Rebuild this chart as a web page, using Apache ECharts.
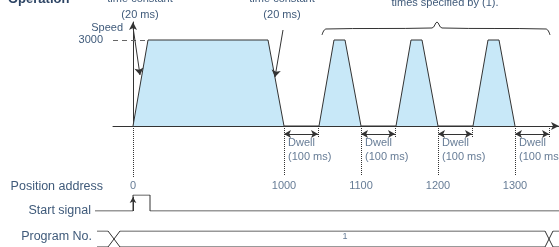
<!DOCTYPE html>
<html>
<head>
<meta charset="utf-8">
<title>Operation</title>
<script src="https://cdn.jsdelivr.net/npm/echarts@6/dist/echarts.min.js"></script>
<style>
html, body { margin: 0; padding: 0; background: #fff; }
#chart { width: 559px; height: 247px; }
</style>
</head>
<body>
<div id="chart"></div>
<script>
// speed profile, time in drawing units (0 = start of first move)
var profileT = [0, 15, 135, 151, 186, 201, 212, 228, 263, 278, 289, 305, 340, 355, 366, 382];
var profileV = [0, 3000, 3000, 0, 0, 3000, 3000, 0, 0, 3000, 3000, 0, 0, 3000, 3000, 0];
var speedTicks = [3000];
// curly brace over the repeated moves
var braceT = [189, 193, 299, 304, 309, 413, 417];
var braceV = [3174, 3384, 3419, 3628, 3419, 3384, 3174];
// dwell between moves
var dwellStart = [151, 228, 305, 382];
var dwellEnd = [185, 262, 339, 416];
// position address at the end of each move
var addrT = [0, 151, 228, 305, 382];
var addrLabels = ['0', '1000', '1100', '1200', '1300'];
// start signal
var startT = [-38, 0, 0, 17, 17, 426];
var startLevel = [0, 0, 1, 1, 0, 0];
// program no. bus
var progT = [-36, -25, -13, 412, 420, 426];
var progUpper = [1, 1, 0, 0, 1, 1];
var progLower = [0, 0, 1, 1, 0, 0];
var progLabel = '1';

var ink = '#333333';
var txt = '#3f5a7a';
var fill = '#c8e8f8';
var font = "'Liberation Sans', Arial, sans-serif";

function zip(a, b) {
  return a.map(function (v, i) { return [v, b[i]]; });
}

function hiddenX(grid, min) {
  return { gridIndex: grid, type: 'value', min: min, max: 426, show: false };
}

var myChart = echarts.init(document.getElementById('chart'));

// dotted guide lines and dwell arrows in the lower area (y = px below speed axis)
var guides = [
  [{ coord: [0, 0], symbol: 'none', lineStyle: { type: 'dotted' } }, { coord: [0, 52], symbol: 'none' }]
];
dwellStart.forEach(function (s, i) {
  var e = dwellEnd[i];
  guides.push([{ coord: [s, 0], symbol: 'none', lineStyle: { type: 'dotted' } }, { coord: [s, 50], symbol: 'none' }]);
  guides.push([{ coord: [e, 0], symbol: 'none', lineStyle: { type: 'dotted' } }, { coord: [e, 11], symbol: 'none' }]);
  guides.push([{ coord: [s, 8], symbol: 'arrow', lineStyle: { type: 'solid' } }, { coord: [e, 8], symbol: 'arrow' }]);
});

myChart.setOption({
  animation: false,
  textStyle: { fontFamily: font },
  grid: [
    { left: 113, right: 0, top: 22, height: 104 },
    { left: 0, right: 0, top: 126, height: 121 },
    { left: 0, right: 0, top: 195, height: 16 },
    { left: 0, right: 0, top: 231, height: 21 }
  ],
  xAxis: [
    {
      gridIndex: 0, type: 'value', min: -20, max: 426,
      axisLine: { show: true, symbol: ['none', 'arrow'], symbolSize: [6, 8], lineStyle: { color: ink, width: 1 } },
      axisTick: { show: false }, axisLabel: { show: false }, splitLine: { show: false }
    },
    hiddenX(1, -133), hiddenX(2, -133), hiddenX(3, -133)
  ],
  yAxis: [
    {
      gridIndex: 0, type: 'value', min: 0, max: 3628,
      name: 'Speed', nameLocation: 'end', nameGap: -6,
      nameTextStyle: { color: txt, fontSize: 11, align: 'right', verticalAlign: 'middle', padding: [0, 10, 0, 0] },
      axisLine: { show: true, symbol: ['none', 'arrow'], symbolSize: [6, 8], lineStyle: { color: ink, width: 1 } },
      axisTick: { show: false }, splitLine: { show: false },
      axisLabel: { customValues: speedTicks, color: txt, fontSize: 11, margin: 10, formatter: function (v) { return String(v); } }
    },
    { gridIndex: 1, type: 'value', min: 0, max: 121, inverse: true, show: false },
    { gridIndex: 2, type: 'value', min: 0, max: 1, show: false },
    { gridIndex: 3, type: 'value', min: 0, max: 1, show: false }
  ],
  series: [
    {
      name: 'speed', type: 'line', xAxisIndex: 0, yAxisIndex: 0,
      data: zip(profileT, profileV), symbol: 'none',
      lineStyle: { color: ink, width: 1 },
      areaStyle: { color: fill, opacity: 1 },
      markLine: {
        silent: true, label: { show: false }, symbolSize: 7,
        lineStyle: { color: ink, width: 1 },
        data: [
          [{ coord: [-20, 3000], symbol: 'none', lineStyle: { type: [5, 4], color: '#666' } }, { coord: [15, 3000], symbol: 'none' }],
          [{ coord: [0, 3453], symbol: 'none', lineStyle: { type: 'solid' } }, { coord: [7, 1779], symbol: 'arrow' }],
          [{ coord: [150, 3349], symbol: 'none', lineStyle: { type: 'solid' } }, { coord: [142, 1709], symbol: 'arrow' }]
        ]
      }
    },
    {
      name: 'brace', type: 'line', xAxisIndex: 0, yAxisIndex: 0, clip: false,
      data: zip(braceT, braceV), symbol: 'none', smooth: 0.35,
      lineStyle: { color: ink, width: 1 }
    },
    {
      name: 'address', type: 'scatter', xAxisIndex: 1, yAxisIndex: 1,
      data: addrT.map(function (t) { return [t, 60]; }), symbolSize: 0,
      label: {
        show: true, position: 'inside', color: txt, fontSize: 11,
        formatter: function (p) { return addrLabels[p.dataIndex]; }
      },
      markLine: {
        silent: true, label: { show: false }, symbolSize: [6, 7],
        lineStyle: { color: ink, width: 1 },
        data: guides
      }
    },
    {
      name: 'dwell', type: 'scatter', xAxisIndex: 1, yAxisIndex: 1,
      data: dwellStart.map(function (t) { return [t, 24]; }), symbolSize: 0,
      label: {
        show: true, position: 'right', distance: 4, color: txt, fontSize: 11, lineHeight: 14,
        formatter: 'Dwell\n(100 ms)'
      }
    },
    {
      name: 'start', type: 'line', xAxisIndex: 2, yAxisIndex: 2,
      data: zip(startT, startLevel), symbol: 'none',
      lineStyle: { color: ink, width: 1 },
      markLine: {
        silent: true, label: { show: false }, symbolSize: [5, 6],
        lineStyle: { color: ink, width: 1, type: 'solid' },
        data: [[{ coord: [0, 0], symbol: 'none' }, { coord: [0, 0.88], symbol: 'arrow' }]]
      }
    },
    {
      name: 'progUpper', type: 'line', xAxisIndex: 3, yAxisIndex: 3,
      data: zip(progT, progUpper), symbol: 'none', lineStyle: { color: ink, width: 1 }
    },
    {
      name: 'progLower', type: 'line', xAxisIndex: 3, yAxisIndex: 3,
      data: zip(progT, progLower), symbol: 'none', lineStyle: { color: ink, width: 1 }
    },
    {
      name: 'progNo', type: 'scatter', xAxisIndex: 3, yAxisIndex: 3,
      data: [[212, 0.66]], symbolSize: 0,
      label: { show: true, position: 'inside', color: txt, fontSize: 9, formatter: progLabel }
    }
  ],
  graphic: [
    { type: 'text', x: 8, y: -1, style: { text: 'Operation', fill: '#2c4464', font: 'bold 13px ' + font, align: 'left', verticalAlign: 'middle' } },
    { type: 'text', x: 140, y: 7, style: { text: 'time constant\n(20 ms)', fill: txt, font: '11px ' + font, lineHeight: 16, align: 'center', verticalAlign: 'middle' } },
    { type: 'text', x: 282, y: 7, style: { text: 'time constant\n(20 ms)', fill: txt, font: '11px ' + font, lineHeight: 16, align: 'center', verticalAlign: 'middle' } },
    { type: 'text', x: 445, y: 3, style: { text: 'times specified by (1).', fill: txt, font: '11px ' + font, align: 'center', verticalAlign: 'middle' } },
    { type: 'text', x: 103, y: 187, style: { text: 'Position address', fill: txt, font: '12.5px ' + font, align: 'right', verticalAlign: 'middle' } },
    { type: 'text', x: 91, y: 211, style: { text: 'Start signal', fill: txt, font: '12.5px ' + font, align: 'right', verticalAlign: 'middle' } },
    { type: 'text', x: 92, y: 237, style: { text: 'Program No.', fill: txt, font: '12.5px ' + font, align: 'right', verticalAlign: 'middle' } }
  ]
});
</script>
</body>
</html>
